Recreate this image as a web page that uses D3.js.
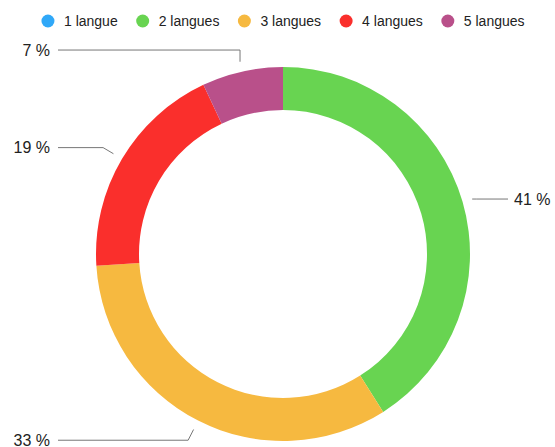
<!DOCTYPE html>
<html>
<head>
<meta charset="utf-8">
<script src="https://cdn.jsdelivr.net/npm/d3@7"></script>
<style>
  body { margin: 0; background: #fff; }
  svg { display: block; font-family: "Liberation Sans", Arial, Helvetica, sans-serif; }
</style>
</head>
<body>
<div id="chart"></div>
<script>
const categories = ["1 langue", "2 langues", "3 langues", "4 langues", "5 langues"];
const values = [0, 41, 33, 19, 7];
const colors = ["#30a8f8", "#68d451", "#f6b940", "#fa2f2c", "#b9508a"];

const width = 555;
const height = 447;
const cx = 283;
const cy = 254;
const outerR = 187;
const innerR = 144;

const svg = d3.select("#chart").append("svg")
  .attr("width", width)
  .attr("height", height);

const color = d3.scaleOrdinal().domain(categories).range(colors);

const data = categories.map((c, i) => ({ name: c, value: values[i] }));

const pie = d3.pie().sort(null).value((d) => d.value);
const arcs = pie(data);

const arc = d3.arc().innerRadius(innerR).outerRadius(outerR);

const g = svg.append("g").attr("transform", `translate(${cx},${cy})`);

g.selectAll("path")
  .data(arcs.filter((d) => d.value > 0))
  .join("path")
  .attr("fill", (d) => color(d.data.name))
  .attr("d", arc);

// leader lines + labels
const polar = (a, r) => [r * Math.sin(a), -r * Math.cos(a)];
const labelArcs = arcs.filter((d) => d.value > 0);

labelArcs.forEach((d) => {
  const mid = (d.startAngle + d.endAngle) / 2;
  const right = Math.sin(mid) > 0;
  const p0 = polar(mid, outerR + 10);
  let p1 = polar(mid, outerR + 22);
  if (right) p1 = [p0[0] + 4, p0[1]];
  // near the top the first leg runs straight up
  if (Math.cos(mid) > 0.9) p1 = [p0[0], p1[1]];
  const xEnd = right ? 508 - cx : 58 - cx;
  g.append("path")
    .attr("fill", "none")
    .attr("stroke", "#777")
    .attr("stroke-width", 1)
    .attr("d", d3.line()([p0, p1, [xEnd, p1[1]]]));
  g.append("text")
    .attr("x", right ? xEnd + 6 : xEnd - 8)
    .attr("y", p1[1])
    .attr("dy", "0.36em")
    .attr("text-anchor", right ? "start" : "end")
    .attr("fill", "#222")
    .attr("font-size", 16)
    .text(`${d.value} %`);
});

// legend
const legend = svg.append("g").attr("transform", "translate(0,21)");
const items = legend.selectAll("g")
  .data(data)
  .join("g");
items.append("circle")
  .attr("r", 6.5)
  .attr("fill", (d) => color(d.name));
items.append("text")
  .attr("x", 16)
  .attr("dy", "0.36em")
  .attr("fill", "#222")
  .attr("font-size", 14)
  .text((d) => d.name);

let xPos = 0;
const offsets = [];
items.each(function () {
  offsets.push(xPos);
  const w = d3.select(this).select("text").node().getComputedTextLength();
  xPos += 16 + w + 25;
});
const totalW = xPos - 25 + 6.5;
const start = cx - totalW / 2 + 6.5;
items.attr("transform", (d, i) => `translate(${start + offsets[i]},0)`);
</script>
</body>
</html>
